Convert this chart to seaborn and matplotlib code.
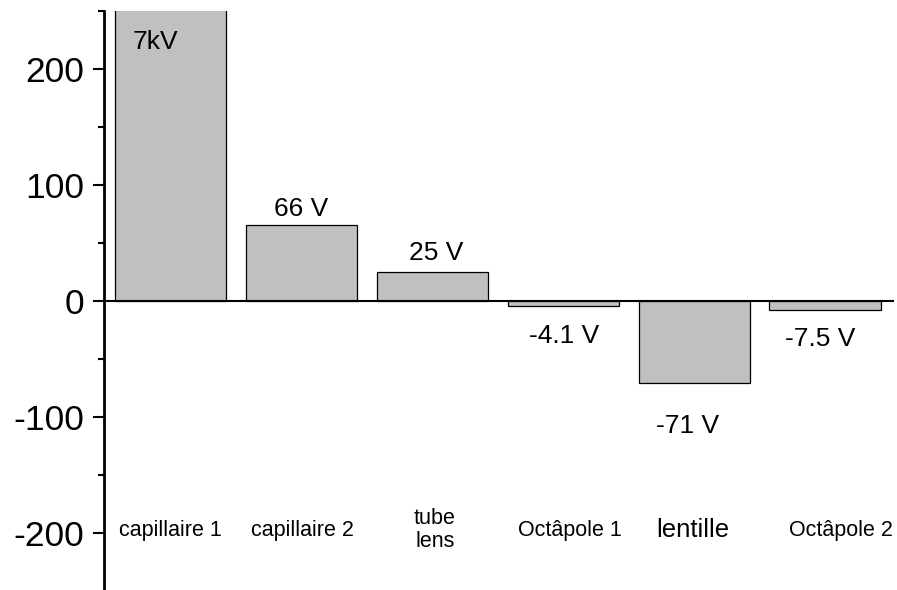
import matplotlib
matplotlib.use("Agg")
import matplotlib.pyplot as plt
from matplotlib.ticker import MultipleLocator
import seaborn as sns
import pandas as pd

# Electrode voltages along the ion path
electrodes = ["capillaire 1", "capillaire 2", "tube\nlens", "Octâpole 1", "lentille", "Octâpole 2"]
voltages = [7000, 66, 25, -4.1, -71, -7.5]

# Where each annotation sits (data units) and how large the names are drawn
value_label_dx = [-0.12, 0.0, 0.03, 0.01, -0.05, -0.04]
value_label_y = [224, 79, 41, -30, -108, -33]
name_label_dx = [0.0, 0.01, 0.02, 0.05, -0.01, 0.12]
name_label_y = -198
name_label_size = [15.5, 15.5, 15.5, 15.5, 18.5, 15.5]


def voltage_text(v):
    if abs(v) >= 1000:
        return f"{v / 1000:g}kV"
    return f"{v:g} V"


sns.set_theme(style="ticks")
plt.rcParams["font.family"] = ["Liberation Sans", "DejaVu Sans"]
plt.rcParams["axes.unicode_minus"] = False

df = pd.DataFrame({"electrode": electrodes, "voltage": voltages})

fig = plt.figure(figsize=(8.97, 5.90), dpi=100)
ax = fig.add_axes([104 / 897, 0.0, (893 - 104) / 897, 1 - 11 / 590])

sns.barplot(data=df, x="electrode", y="voltage", order=electrodes,
            color="#c0c0c0", saturation=1, width=0.85,
            edgecolor="black", linewidth=0.9, ax=ax)

ax.set_ylim(-249.6, 250.4)
ax.set_xlim(-0.51, 5.52)

# y axis: majors every 100, minors every 50
ax.yaxis.set_major_locator(MultipleLocator(100))
ax.yaxis.set_minor_locator(MultipleLocator(50))
ax.tick_params(axis="y", which="major", length=8, width=1.5, labelsize=25.5, pad=6, colors="black")
ax.tick_params(axis="y", which="minor", length=4, width=1.5, colors="black")

# x axis runs along zero, no tick labels (names drawn as text below)
ax.spines["bottom"].set_position(("data", 0))
ax.spines["bottom"].set_linewidth(1.5)
ax.spines["left"].set_linewidth(2)
ax.spines["left"].set_color("black")
ax.spines["bottom"].set_color("black")
ax.spines["top"].set_visible(False)
ax.spines["right"].set_visible(False)
ax.set_xticks(range(len(electrodes)))
ax.set_xticklabels([])
ax.tick_params(axis="x", length=0)
ax.set_xlabel("")
ax.set_ylabel("")

for i, v in enumerate(voltages):
    ax.text(i + value_label_dx[i], value_label_y[i], voltage_text(v),
            ha="center", va="center", fontsize=19, color="black")

for i, name in enumerate(electrodes):
    ax.text(i + name_label_dx[i], name_label_y, name,
            ha="center", va="center", fontsize=name_label_size[i],
            color="black", linespacing=1.1)

fig.savefig("out.png", dpi=100)
